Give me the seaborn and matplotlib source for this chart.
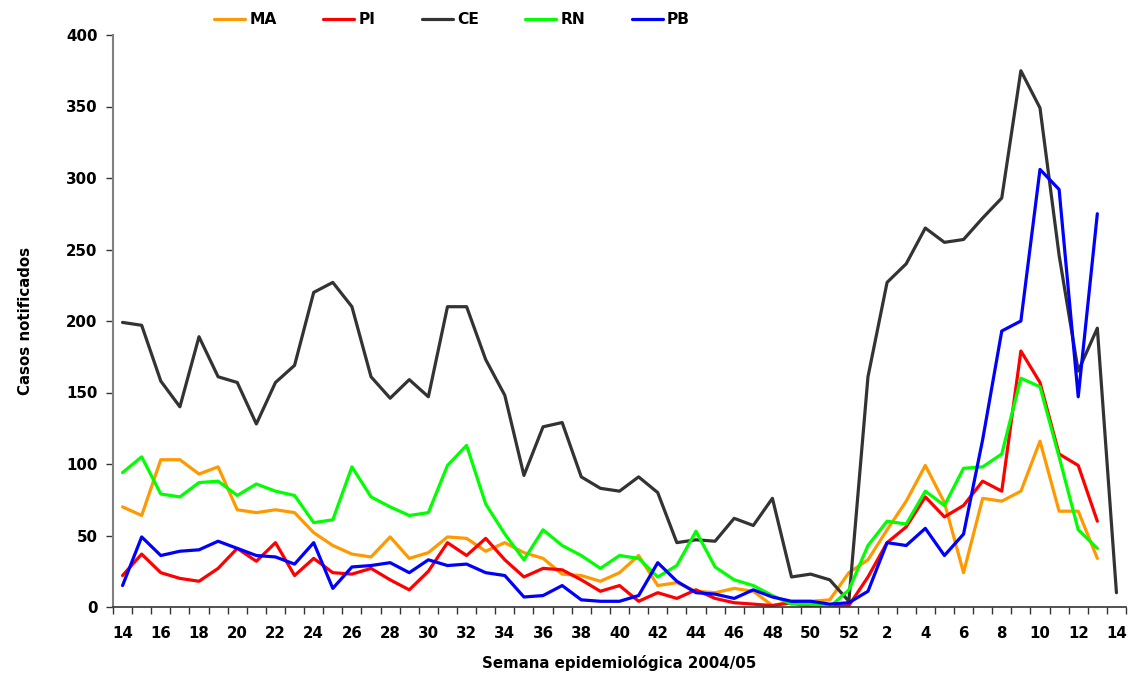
import numpy as np
import pandas as pd
import matplotlib
matplotlib.use("Agg")
import matplotlib.pyplot as plt
import seaborn as sns

# semanas 14..52 de 2004 e 1..14 de 2005
semanas = list(range(14, 53)) + list(range(1, 15))

MA = [70, 64, 103, 103, 93, 98, 68, 66, 68, 66, 52, 43, 37, 35, 49, 34, 38, 49, 48, 39,
      45, 38, 34, 23, 22, 18, 24, 36, 15, 17, 11, 10, 13, 11, 1, 4, 4, 5, 24,
      33, 54, 74, 99, 73, 24, 76, 74, 81, 116, 67, 67, 34]
PI = [22, 37, 24, 20, 18, 27, 41, 32, 45, 22, 34, 24, 23, 27, 19, 12, 25, 45, 36, 48,
      33, 21, 27, 26, 19, 11, 15, 4, 10, 6, 12, 6, 3, 2, 1, 3, 0, 0, 1,
      21, 45, 56, 77, 63, 71, 88, 81, 179, 157, 107, 99, 60]
CE = [199, 197, 158, 140, 189, 161, 157, 128, 157, 169, 220, 227, 210, 161, 146, 159, 147, 210, 210, 173,
      148, 92, 126, 129, 91, 83, 81, 91, 80, 45, 47, 46, 62, 57, 76, 21, 23, 19, 4,
      161, 227, 240, 265, 255, 257, 272, 286, 375, 349, 246, 165, 195, 10]
RN = [94, 105, 79, 77, 87, 88, 78, 86, 81, 78, 59, 61, 98, 77, 70, 64, 66, 99, 113, 72,
      51, 33, 54, 43, 36, 27, 36, 34, 21, 29, 53, 28, 19, 15, 8, 2, 2, 0, 12,
      43, 60, 58, 81, 71, 97, 98, 107, 160, 154, 105, 54, 41]
PB = [15, 49, 36, 39, 40, 46, 41, 36, 35, 30, 45, 13, 28, 29, 31, 24, 33, 29, 30, 24,
      22, 7, 8, 15, 5, 4, 4, 8, 31, 18, 10, 9, 6, 12, 7, 4, 4, 2, 3,
      11, 45, 43, 55, 36, 51, 117, 193, 200, 306, 292, 147, 275]

series = {"MA": MA, "PI": PI, "CE": CE, "RN": RN, "PB": PB}
cores = {"MA": "#FF9900", "PI": "#FF0000", "CE": "#333333", "RN": "#00FF00", "PB": "#0000FF"}

linhas = []
for nome, vals in series.items():
    for i, v in enumerate(vals):
        linhas.append({"idx": i, "casos": v, "estado": nome})
df = pd.DataFrame(linhas)

sns.set_style("white")
plt.rcParams["font.family"] = ["DejaVu Sans"]
plt.rcParams["font.weight"] = "bold"
plt.rcParams["text.color"] = "black"
plt.rcParams["axes.labelcolor"] = "black"
plt.rcParams["xtick.color"] = "black"
plt.rcParams["ytick.color"] = "black"

fig = plt.figure(figsize=(11.28, 6.73), dpi=100)
ax = fig.add_axes([113 / 1128, 66 / 673, (1126 - 113) / 1128, (607 - 35) / 673])

sns.lineplot(data=df, x="idx", y="casos", hue="estado", hue_order=list(series.keys()),
             palette=cores, linewidth=2.3, ax=ax, legend=True)

ax.set_xlim(-0.5, len(semanas) - 0.5)
ax.set_ylim(0, 400)
ax.set_yticks(range(0, 401, 50))

# rótulos a cada duas semanas, marcas entre as categorias
pos = list(range(0, len(semanas), 2))
ax.set_xticks(pos)
ax.set_xticklabels([str(semanas[p]) for p in pos])
ax.set_xticks(np.arange(-0.5, len(semanas), 1), minor=True)
ax.tick_params(axis="x", which="major", bottom=True, length=0, pad=14)
ax.tick_params(axis="x", which="minor", bottom=True, length=5, width=1, color="#333333", direction="out")
ax.tick_params(axis="y", left=True, length=5, width=1, color="#333333", direction="out", pad=6)
ax.tick_params(labelsize=10.8, labelcolor="black")
for lab in ax.get_xticklabels() + ax.get_yticklabels():
    lab.set_fontweight("bold")

for s in ["top", "right"]:
    ax.spines[s].set_visible(False)
ax.spines["left"].set_color("#808080")
ax.spines["left"].set_linewidth(1.5)
ax.spines["bottom"].set_color("#333333")
ax.spines["bottom"].set_linewidth(1.2)

ax.set_xlabel("Semana epidemiológica 2004/05", fontsize=10.8, fontweight="bold", labelpad=10)
ax.set_ylabel("Casos notificados", fontsize=10.8, fontweight="bold", labelpad=24)

ax.legend(loc="center", bbox_to_anchor=(452 / 1128, 1 - 20 / 673),
          bbox_transform=fig.transFigure, ncol=5, frameon=False, title=None,
          prop={"weight": "bold", "size": 11.2}, handlelength=2.0, columnspacing=3.0,
          handletextpad=0.25)

fig.savefig("out.png", dpi=100)
